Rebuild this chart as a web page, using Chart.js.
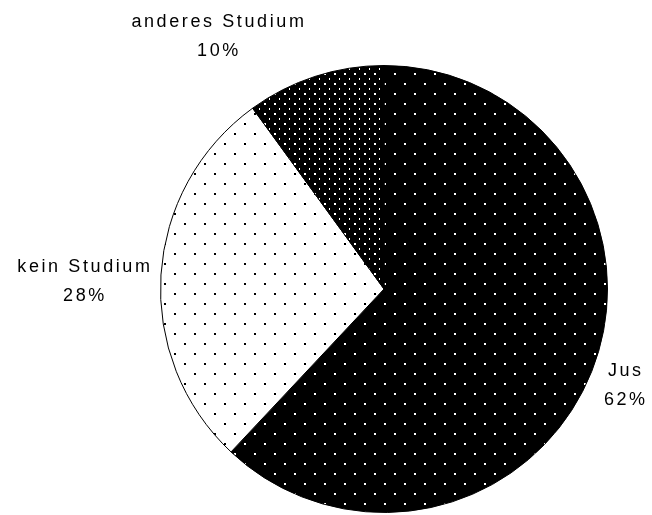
<!DOCTYPE html>
<html>
<head>
<meta charset="utf-8">
<script src="https://cdn.jsdelivr.net/npm/chart.js@4.4.0/dist/chart.umd.min.js"></script>
<style>
  body { margin: 0; background: #fff; }
</style>
</head>
<body>
<canvas id="myChart" width="652" height="515"></canvas>
<script>
// Studienrichtung der Befragten
const categories = ['Jus', 'kein Studium', 'anderes Studium'];
const shares = [62, 28, 10];

// dotted fills like the old print patterns
function dotPattern(size, bg, fg) {
  const c = document.createElement('canvas');
  c.width = size;
  c.height = size;
  const g = c.getContext('2d');
  g.fillStyle = bg;
  g.fillRect(0, 0, size, size);
  g.fillStyle = fg;
  g.fillRect(4 % size, 3 % size, 2, 2);
  g.fillRect((4 + size / 2) % size, (3 + size / 2) % size, 2, 2);
  return g.createPattern(c, 'repeat');
}

const ctx = document.getElementById('myChart').getContext('2d');
const fills = [
  dotPattern(20, '#000', '#fff'),   // Jus
  dotPattern(20, '#fff', '#000'),   // kein Studium
  dotPattern(10, '#000', '#fff')    // anderes Studium
];

// label nudges relative to the slice's outer edge point (dx, dy)
const labelNudge = [[34, 14], [-76, 6], [-96, -40]];

const outsideLabels = {
  id: 'outsideLabels',
  afterDatasetsDraw(chart) {
    const meta = chart.getDatasetMeta(0);
    const g = chart.ctx;
    g.save();
    g.font = '18px "Liberation Sans", Arial, sans-serif';
    g.letterSpacing = '2.6px';
    g.fillStyle = '#000';
    g.textAlign = 'center';
    g.textBaseline = 'middle';
    meta.data.forEach((arc, i) => {
      const p = arc.getProps(['x', 'y', 'startAngle', 'endAngle', 'outerRadius'], true);
      const mid = (p.startAngle + p.endAngle) / 2;
      const ex = p.x + Math.cos(mid) * p.outerRadius;
      const ey = p.y + Math.sin(mid) * p.outerRadius;
      const x = ex + labelNudge[i][0];
      const y = ey + labelNudge[i][1];
      g.fillText(categories[i], x, y - 14);
      g.fillText(shares[i] + '%', x, y + 15);
    });
    g.restore();
  }
};

new Chart(ctx, {
  type: 'pie',
  data: {
    labels: categories,
    datasets: [{
      data: shares,
      backgroundColor: fills,
      borderColor: '#000',
      borderWidth: 1
    }]
  },
  options: {
    responsive: false,
    animation: false,
    layout: {
      padding: { left: 160, right: 44, top: 65, bottom: 2 }
    },
    plugins: {
      legend: { display: false },
      tooltip: { enabled: false }
    }
  },
  plugins: [outsideLabels]
});
</script>
</body>
</html>
